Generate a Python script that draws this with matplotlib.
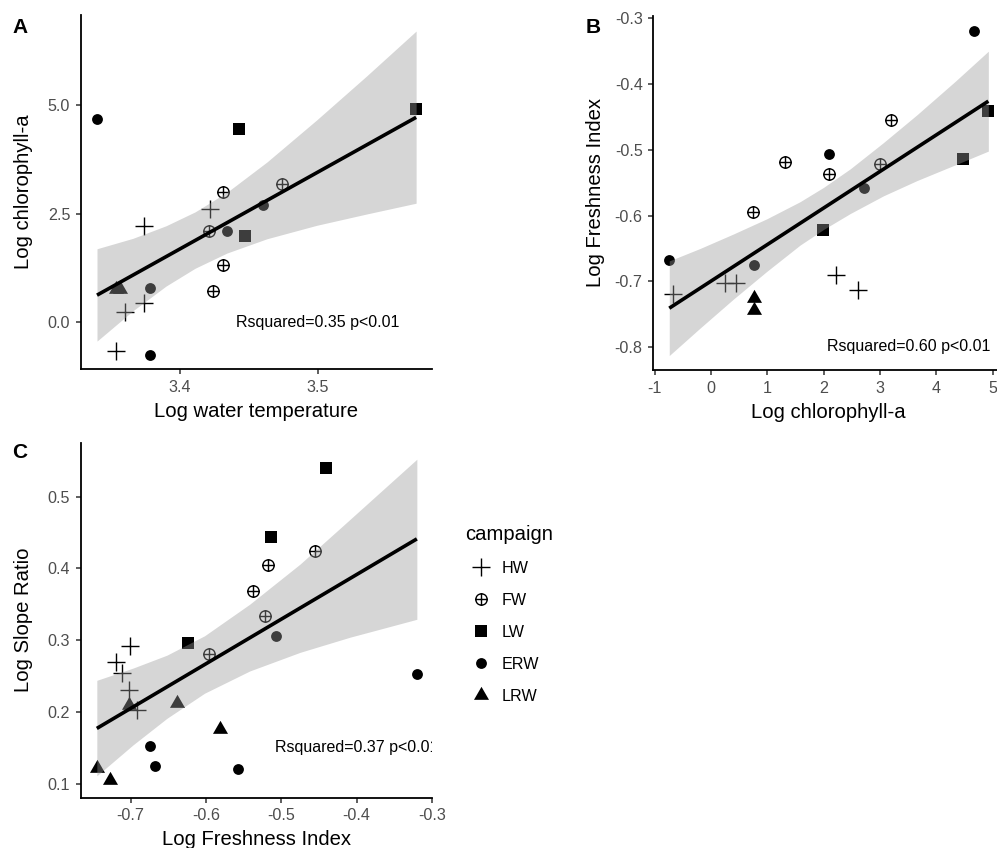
import pandas as pd
import matplotlib
matplotlib.use('Agg')
import matplotlib.pyplot as plt
from matplotlib.path import Path
from matplotlib.lines import Line2D

plt.rcParams['font.family'] = ['Liberation Sans', 'DejaVu Sans']
plt.rcParams['axes.unicode_minus'] = False

CAMPAIGNS = ['HW', 'FW', 'LW', 'ERW', 'LRW']

# Panel A: log water temperature vs log chlorophyll-a
a_campaign = ['HW'] * 5 + ['FW'] * 5 + ['LW'] * 3 + ['ERW'] * 5 + ['LRW'] * 2
a_temp = [3.374, 3.422, 3.374, 3.360, 3.354,
          3.431, 3.474, 3.421, 3.431, 3.424,
          3.443, 3.447, 3.571,
          3.340, 3.378, 3.378, 3.434, 3.460,
          3.354, 3.357]
a_chl = [2.22, 2.61, 0.45, 0.24, -0.67,
         2.99, 3.19, 2.11, 1.32, 0.72,
         4.46, 1.99, 4.92,
         4.68, -0.75, 0.78, 2.11, 2.70,
         0.77, 0.77]
a_band_x = [3.340, 3.366, 3.390, 3.411, 3.434, 3.463, 3.499, 3.535, 3.571]
a_band_lo = [-0.44, 0.26, 0.83, 1.24, 1.59, 1.92, 2.23, 2.49, 2.74]
a_band_hi = [1.69, 1.93, 2.22, 2.54, 2.99, 3.69, 4.66, 5.67, 6.71]
a_fit_x = [3.340, 3.571]
a_fit_y = [0.62, 4.72]

# Panel B: log chlorophyll-a vs log freshness index
b_campaign = ['HW'] * 5 + ['FW'] * 5 + ['LW'] * 3 + ['ERW'] * 5 + ['LRW'] * 2
b_chl = [-0.68, 0.24, 0.44, 2.22, 2.60,
         0.74, 1.32, 2.10, 2.99, 3.19,
         1.99, 4.47, 4.92,
         -0.74, 0.77, 2.10, 2.71, 4.67,
         0.77, 0.77]
b_fi = [-0.719, -0.702, -0.702, -0.691, -0.714,
        -0.595, -0.518, -0.537, -0.522, -0.455,
        -0.622, -0.514, -0.441,
        -0.668, -0.675, -0.507, -0.558, -0.319,
        -0.725, -0.744]
b_band_x = [-0.74, -0.19, 0.40, 0.99, 1.58, 2.00, 2.47, 3.06, 3.65, 4.33, 4.92]
b_band_lo = [-0.813, -0.771, -0.727, -0.685, -0.645, -0.621, -0.597, -0.570, -0.547, -0.523, -0.502]
b_band_hi = [-0.669, -0.650, -0.628, -0.605, -0.579, -0.557, -0.529, -0.489, -0.447, -0.396, -0.350]
b_fit_x = [-0.74, 4.92]
b_fit_y = [-0.741, -0.426]

# Panel C: log freshness index vs log slope ratio
c_campaign = ['HW'] * 5 + ['FW'] * 5 + ['LW'] * 3 + ['ERW'] * 5 + ['LRW'] * 5
c_fi = [-0.701, -0.719, -0.712, -0.702, -0.691,
        -0.455, -0.518, -0.538, -0.522, -0.596,
        -0.441, -0.514, -0.624,
        -0.675, -0.668, -0.557, -0.507, -0.320,
        -0.745, -0.727, -0.702, -0.639, -0.581]
c_sr = [0.292, 0.270, 0.254, 0.230, 0.202,
        0.424, 0.404, 0.368, 0.333, 0.280,
        0.540, 0.443, 0.296,
        0.153, 0.125, 0.121, 0.306, 0.253,
        0.122, 0.105, 0.210, 0.212, 0.176]
c_band_x = [-0.745, -0.697, -0.652, -0.602, -0.542, -0.475, -0.409, -0.320]
c_band_lo = [0.111, 0.154, 0.191, 0.226, 0.257, 0.283, 0.304, 0.329]
c_band_hi = [0.244, 0.261, 0.279, 0.306, 0.350, 0.406, 0.468, 0.552]
c_fit_x = [-0.745, -0.320]
c_fit_y = [0.177, 0.441]

# marker shapes (ggplot pch 3, 10, 15, 16, 17)
circle_plus = Path.make_compound_path(
    Path.unit_circle(),
    Path([(-1, 0), (1, 0)], [Path.MOVETO, Path.LINETO]),
    Path([(0, -1), (0, 1)], [Path.MOVETO, Path.LINETO]),
)
triangle = Path([(-1, -0.577), (1, -0.577), (0, 1.155), (-1, -0.577)], closed=True)

MARKERS = {
    'HW': dict(marker='+', markersize=13, markeredgewidth=1.0, color='black'),
    'FW': dict(marker=circle_plus, markersize=8.2, markeredgewidth=1.0,
               markerfacecolor='none', markeredgecolor='black'),
    'LW': dict(marker='s', markersize=8.2, markeredgewidth=0, color='black'),
    'ERW': dict(marker='o', markersize=7.8, markeredgewidth=0, color='black'),
    'LRW': dict(marker=triangle, markersize=12.5, markeredgewidth=0, color='black'),
}

TICK_COLOR = '#4d4d4d'
W, H = 997, 848


def px_box(left, top, right, bottom):
    return [left / W, 1 - bottom / H, (right - left) / W, (bottom - top) / H]


def draw_panel(ax, campaign, x, y, band_x, band_lo, band_hi, fit_x, fit_y):
    df = pd.DataFrame({'campaign': campaign, 'x': x, 'y': y})
    for camp in CAMPAIGNS:
        sub = df[df['campaign'] == camp]
        ax.plot(sub['x'], sub['y'], linestyle='none', zorder=2, **MARKERS[camp])
    # ribbon drawn over the points, like geom_smooth after geom_point
    ax.fill_between(band_x, band_lo, band_hi, color='#999999', alpha=0.4,
                    linewidth=0, zorder=3)
    ax.plot(fit_x, fit_y, color='black', lw=2.6, solid_capstyle='butt', zorder=4)


def style_axes(ax, xlim, ylim, xticks, yticks, xlabel, ylabel):
    ax.set_xlim(*xlim)
    ax.set_ylim(*ylim)
    ax.set_xticks(xticks)
    ax.set_xticklabels([str(t) for t in xticks])
    ax.set_yticks(yticks)
    ax.set_yticklabels([f'{t:.1f}' for t in yticks])
    for side in ['top', 'right']:
        ax.spines[side].set_visible(False)
    for side in ['left', 'bottom']:
        ax.spines[side].set_linewidth(1.3)
        ax.spines[side].set_color('black')
    ax.tick_params(length=3.6, width=1.1, color='#333333', labelcolor=TICK_COLOR,
                   labelsize=11.6, pad=4)
    ax.set_xlabel(xlabel, fontsize=14.6)
    ax.set_ylabel(ylabel, fontsize=14.6)
    ax.xaxis.set_label_coords(0.5, -0.092)
    ax.yaxis.set_label_coords(-0.137, 0.5)
    ax.patch.set_visible(False)


fig = plt.figure(figsize=(W / 100, H / 100), dpi=100)

ax_a = fig.add_axes(px_box(80.7, 15, 432.3, 369.3))
draw_panel(ax_a, a_campaign, a_temp, a_chl, a_band_x, a_band_lo, a_band_hi, a_fit_x, a_fit_y)
style_axes(ax_a, (3.3282, 3.5827), (-1.09, 7.08), [3.4, 3.5], [0.0, 2.5, 5.0],
           'Log water temperature', 'Log chlorophyll-a')
ax_a.text(3.5, 0.0, 'Rsquared=0.35 p<0.01', ha='center', va='center', fontsize=11.5,
          clip_on=True)

ax_b = fig.add_axes(px_box(653.3, 15.7, 1004.3, 370))
draw_panel(ax_b, b_campaign, b_chl, b_fi, b_band_x, b_band_lo, b_band_hi, b_fit_x, b_fit_y)
style_axes(ax_b, (-1.023, 5.203), (-0.835, -0.296), [-1, 0, 1, 2, 3, 4, 5],
           [-0.8, -0.7, -0.6, -0.5, -0.4, -0.3], 'Log chlorophyll-a', 'Log Freshness Index')
ax_b.yaxis.set_label_coords(-0.139, 0.5)
ax_b.text(3.5, -0.8, 'Rsquared=0.60 p<0.01', ha='center', va='center', fontsize=11.5,
          clip_on=True)

ax_c = fig.add_axes(px_box(80.7, 442.7, 432.3, 797.7))
draw_panel(ax_c, c_campaign, c_fi, c_sr, c_band_x, c_band_lo, c_band_hi, c_fit_x, c_fit_y)
style_axes(ax_c, (-0.7664, -0.2995), (0.0805, 0.575), [-0.7, -0.6, -0.5, -0.4, -0.3],
           [0.1, 0.2, 0.3, 0.4, 0.5], 'Log Freshness Index', 'Log Slope Ratio')
ax_c.text(-0.4, 0.15, 'Rsquared=0.37 p<0.01', ha='center', va='center', fontsize=11.5,
          clip_on=True)

# panel tags
for tag, x0, y0 in [('A', 12.3, 32.7), ('B', 585.7, 32.7), ('C', 12.3, 457.7)]:
    fig.text(x0 / W, 1 - y0 / H, tag, fontsize=15, fontweight='bold', va='baseline')

handles = [Line2D([], [], linestyle='none', **MARKERS[c]) for c in CAMPAIGNS]
fig.legend(handles, CAMPAIGNS, title='campaign', loc='upper left',
           bbox_to_anchor=(465 / W, 1 - 525 / H), frameon=False, fontsize=11.6,
           title_fontsize=14.6, alignment='left', handlelength=1.93,
           handletextpad=0.37, labelspacing=1.05, borderpad=0, borderaxespad=0,
           numpoints=1)

fig.savefig('out.png', dpi=100)
